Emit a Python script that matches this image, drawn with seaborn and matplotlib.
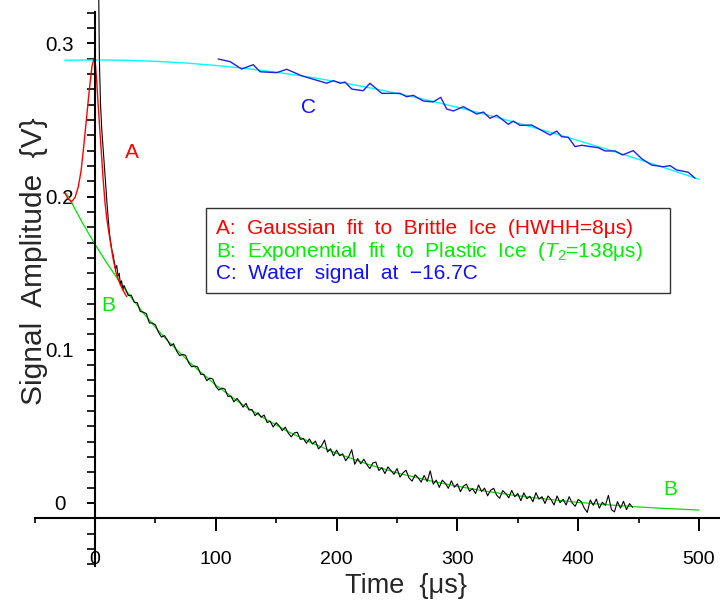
import numpy as np
import pandas as pd
import matplotlib
matplotlib.use("Agg")
import matplotlib.pyplot as plt
import seaborn as sns
from matplotlib.patches import Rectangle

# ---------------- data ----------------
# Black: measured FID signal, early steep part
fid_early_t = [2.5, 3.0, 3.6, 4.5, 5.5, 7.0, 8.5, 10.0, 11.0, 12.0, 13.0, 14.0,
               15.0, 16.0, 17.0, 18.0, 19.0, 20.0, 21.0, 22.0, 23.0, 24.0]
fid_early_v = [0.45, 0.34, 0.29, 0.262, 0.245, 0.228, 0.212, 0.195, 0.185, 0.176,
               0.170, 0.165, 0.162, 0.157, 0.153, 0.155, 0.148, 0.150, 0.143,
               0.145, 0.139, 0.142]
# Black: noisy tail, sampled every 2.5 us starting at 25 us
fid_tail_t0 = 25.0
fid_tail_dt = 2.5
fid_tail_v = [
    0.1402, 0.1355, 0.1356, 0.1310, 0.1308, 0.1250, 0.1246, 0.1236, 0.1175, 0.1175,
    0.1163, 0.1115, 0.1083, 0.1093, 0.1063, 0.1026, 0.1040, 0.0993, 0.0962, 0.0970,
    0.0964, 0.0915, 0.0889, 0.0894, 0.0888, 0.0840, 0.0839, 0.0798, 0.0816, 0.0809,
    0.0761, 0.0737, 0.0750, 0.0744, 0.0696, 0.0697, 0.0660, 0.0683, 0.0659, 0.0625,
    0.0651, 0.0607, 0.0610, 0.0570, 0.0589, 0.0560, 0.0574, 0.0525, 0.0534, 0.0496,
    0.0524, 0.0504, 0.0472, 0.0495, 0.0456, 0.0432, 0.0457, 0.0462, 0.0415, 0.0421,
    0.0390, 0.0418, 0.0385, 0.0404, 0.0353, 0.0373, 0.0411, 0.0333, 0.0354, 0.0308,
    0.0345, 0.0309, 0.0321, 0.0276, 0.0302, 0.0348, 0.0253, 0.0290, 0.0256, 0.0286,
    0.0252, 0.0224, 0.0261, 0.0267, 0.0212, 0.0231, 0.0192, 0.0236, 0.0212, 0.0187,
    0.0225, 0.0169, 0.0197, 0.0214, 0.0163, 0.0143, 0.0184, 0.0165, 0.0136, 0.0180,
    0.0141, 0.0210, 0.0123, 0.0149, 0.0102, 0.0149, 0.0129, 0.0096, 0.0145, 0.0103,
    0.0125, 0.0074, 0.0110, 0.0123, 0.0077, 0.0094, 0.0062, 0.0118, 0.0075, 0.0097,
    0.0047, 0.0083, 0.0096, 0.0051, 0.0031, 0.0081, 0.0062, 0.0034, 0.0082, 0.0041,
    0.0062, 0.0015, 0.0066, 0.0028, 0.0044, 0.0008, 0.0067, 0.0025, 0.0041, -0.0003,
    0.0046, 0.0023, -0.0013, 0.0046, 0.0002, 0.0024, -0.0013, 0.0041, 0.0001, -0.0022,
    0.0023, 0.0009, -0.0033, -0.0061, 0.0020, -0.0015, 0.0026, -0.0034, 0.0005, -0.0015,
    0.0050, -0.0043, -0.0058, 0.0009, -0.0034, 0.0011, -0.0043, -0.0004, -0.0028,
]

# Red: Gaussian fit (A)
gauss_t = [-24.8, -22.0, -19.3, -16.5, -13.8, -11.5, -9.7, -8.3, -6.9, -5.5, -4.1,
           -2.5, -0.8, 0.4, 1.5, 2.8, 4.1, 5.5, 6.9, 8.3, 9.7, 11.0, 13.0, 15.1,
           17.5, 20.7, 23.5, 26.2]
gauss_v = [0.2021, 0.1983, 0.1967, 0.1995, 0.2065, 0.2170, 0.2300, 0.2410, 0.2521,
           0.2635, 0.2740, 0.2850, 0.2903, 0.2860, 0.2740, 0.2580, 0.2420, 0.2260,
           0.2095, 0.1960, 0.1860, 0.1790, 0.1690, 0.1590, 0.1500, 0.1430, 0.1385,
           0.1347]

# Green: exponential fit (B)
expo_t = [-23.5, -10, 0, 10, 20, 30, 40, 50, 60, 80, 100, 120, 140, 160, 180, 200,
          225, 250, 275, 300, 325, 350, 375, 400, 425, 450, 475, 500]
expo_v = [0.2020, 0.1823, 0.1689, 0.1564, 0.1448, 0.1341, 0.1240, 0.1147, 0.1060,
          0.0905, 0.0770, 0.0653, 0.0553, 0.0465, 0.0390, 0.0325, 0.0255, 0.0197,
          0.0149, 0.0109, 0.0075, 0.0047, 0.0024, 0.0004, -0.0012, -0.0026,
          -0.0037, -0.0046]

# Blue: water signal (C)
water_t = [102, 111.8, 121.4, 131, 136.6, 150.4, 158.7, 171, 180.7, 191.8, 197.3,
           202.8, 207, 212.5, 222, 227.6, 237.3, 252.5, 258, 263.5, 271.8, 280,
           286.2, 291.1, 296.6, 304.9, 316, 321.5, 327, 332.5, 342.2, 346.3, 351.8,
           361.5, 376.7, 382.2, 386.3, 391.8, 397.4, 402.9, 416.6, 422.2, 430.5,
           436.8, 445.6, 452.6, 460.8, 470.4, 476, 481.5, 491.1, 496.7]
water_v = [0.2898, 0.2881, 0.2833, 0.2861, 0.2815, 0.2809, 0.2831, 0.2789, 0.2766,
           0.2740, 0.2757, 0.2740, 0.2748, 0.2702, 0.2691, 0.2740, 0.2674, 0.2674,
           0.2652, 0.2661, 0.2624, 0.2618, 0.2648, 0.2572, 0.2559, 0.2587, 0.2539,
           0.2552, 0.2511, 0.2531, 0.2472, 0.2493, 0.2465, 0.2467, 0.2402, 0.2428,
           0.2391, 0.2387, 0.2326, 0.2335, 0.2319, 0.2298, 0.2298, 0.2272, 0.2300,
           0.2247, 0.2206, 0.2195, 0.2202, 0.2174, 0.2159, 0.2120]

# Cyan: fit to water signal
wfit_t = [-25, 0, 25, 50, 75, 100, 125, 150, 175, 200, 225, 250, 275, 300, 325,
          350, 375, 400, 425, 450, 475, 500]
wfit_v = [0.2890, 0.2892, 0.2890, 0.2883, 0.2872, 0.2856, 0.2836, 0.2812, 0.2783,
          0.2750, 0.2714, 0.2674, 0.2630, 0.2583, 0.2533, 0.2480, 0.2424, 0.2366,
          0.2306, 0.2243, 0.2179, 0.2113]

x_major = [0, 100, 200, 300, 400, 500]
x_labels = ["0", "100", "200", "300", "400", "500"]
y_major = [0.0, 0.1, 0.2, 0.3]
y_labels = ["0", "0.1", "0.2", "0.3"]

legend_lines = [
    ("A:  Gaussian  fit  to  Brittle  Ice  (HWHH=8\u03bcs)", "#ff0000"),
    ("B:  Exponential  fit  to  Plastic  Ice  ($T_\\mathrm{2}$=138\u03bcs)", "#00ee00"),
    ("C:  Water  signal  at  \u221216.7C", "#1010ff"),
]

# ---------------- plotting ----------------
sns.set_theme(style="white")
plt.rcParams["font.family"] = ["Liberation Sans", "DejaVu Sans"]
plt.rcParams["mathtext.fontset"] = "custom"
plt.rcParams["mathtext.rm"] = "Liberation Sans"
plt.rcParams["mathtext.it"] = "Liberation Sans:italic"

W, H = 720, 600
fig = plt.figure(figsize=(W / 100, H / 100), dpi=100)
fig.patch.set_facecolor("white")
ax = fig.add_axes([0, 0, 1, 1])
ax.set_facecolor("white")

fid_t = list(fid_early_t) + [fid_tail_t0 + fid_tail_dt * i for i in range(len(fid_tail_v))]
fid_v = list(fid_early_v) + list(fid_tail_v)

sns.lineplot(x=wfit_t, y=wfit_v, ax=ax, color="#00ffff", linewidth=1.0,
             sort=False, estimator=None)
sns.lineplot(x=water_t, y=water_v, ax=ax, color="#2020e8", linewidth=1.0,
             sort=False, estimator=None)
sns.lineplot(x=expo_t, y=expo_v, ax=ax, color="#00e000", linewidth=0.9,
             sort=False, estimator=None)
sns.lineplot(x=fid_t, y=fid_v, ax=ax, color="black", linewidth=0.8,
             sort=False, estimator=None)
sns.lineplot(x=gauss_t, y=gauss_v, ax=ax, color="#ff0000", linewidth=1.0,
             sort=False, estimator=None)

# pixel mapping: t=0 at x=95px, 1.208 px/us ; y=0 at 503px, 1532 px/V
ax.set_xlim(-95 / 1.208, (W - 95) / 1.208)
ax.set_ylim(-(H - 503) / 1532, 503 / 1532)

for s in ["top", "right"]:
    ax.spines[s].set_visible(False)
ax.spines["left"].set_position(("data", 0))
ax.spines["bottom"].set_position(("data", -0.01))
ax.spines["left"].set_bounds(-0.041, 0.3205)
ax.spines["bottom"].set_bounds(-50, 520)
for s in ["left", "bottom"]:
    ax.spines[s].set_color("black")
    ax.spines[s].set_linewidth(1.5)

ax.set_xticks(x_major)
ax.set_xticklabels(x_labels)
ax.set_xticks([-50, 50, 150, 250, 350, 450], minor=True)
ax.set_yticks(y_major)
ax.set_yticklabels(y_labels)
ax.set_yticks([round(v, 2) for v in np.arange(-0.04, 0.3251, 0.01)], minor=True)

ax.tick_params(axis="x", which="major", direction="out", length=9.4, width=1.4,
               pad=14, labelsize=14, colors="black", bottom=True)
ax.tick_params(axis="x", which="minor", direction="out", length=3.8, width=1.4,
               bottom=True)
ax.tick_params(axis="y", which="both", direction="out", length=5.8, width=1.4,
               left=True)
ax.tick_params(axis="y", which="major", pad=19.4, labelsize=14.8, colors="black")
for lbl in ax.get_yticklabels():
    lbl.set_ha("center")
ax.grid(False)
ax.set_xlabel("")
ax.set_ylabel("")


def P(x, y):
    return (x / W, 1 - y / H)


fig.text(*P(406, 593), "Time  {\u03bcs}", fontsize=19.5, ha="center", va="baseline")
fig.text(*P(41.7, 261), "Signal  Amplitude  {V}", fontsize=21.5, rotation=90,
         rotation_mode="anchor", ha="center", va="baseline")

# legend box
x0, y0, x1, y1 = 206, 207.7, 670, 293.3
fig.patches.append(Rectangle(P(x0, y1), (x1 - x0) / W, (y1 - y0) / H,
                             transform=fig.transFigure, fill=False,
                             edgecolor="#333333", linewidth=1.0))
for (txt, col), base in zip(legend_lines, [234, 257.3, 279.3]):
    fig.text(*P(216, base), txt, color=col, fontsize=15, ha="left", va="baseline")

# curve labels
fig.text(*P(132, 158), "A", color="#ff0000", fontsize=15, ha="center", va="baseline")
fig.text(*P(108, 311), "B", color="#00ee00", fontsize=15, ha="center", va="baseline")
fig.text(*P(308, 113), "C", color="#1010ff", fontsize=15, ha="center", va="baseline")
fig.text(*P(670, 495), "B", color="#00ee00", fontsize=15, ha="center", va="baseline")

fig.savefig("out.png", dpi=100, facecolor="white")
